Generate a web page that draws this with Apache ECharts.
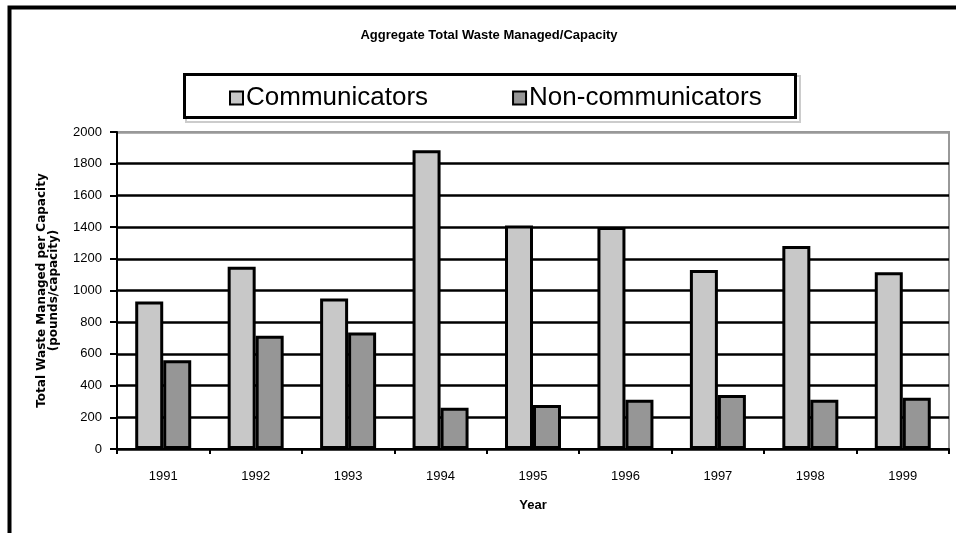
<!DOCTYPE html>
<html>
<head>
<meta charset="utf-8">
<script src="https://cdn.jsdelivr.net/npm/echarts@6/dist/echarts.min.js"></script>
<style>html,body{margin:0;padding:0;background:#fff}#c{width:956px;height:533px}</style>
</head>
<body>
<div id="c"></div>
<script>
var years = ['1991','1992','1993','1994','1995','1996','1997','1998','1999'];
var communicators = [930, 1150, 950, 1885, 1410, 1400, 1130, 1280, 1115];
var nonCommunicators = [560, 715, 735, 260, 278, 311, 341, 311, 324];
var titleText = 'Aggregate Total Waste Managed/Capacity';
var yAxisName = 'Total Waste Managed per Capacity\n(pounds/capacity)';
var xAxisName = 'Year';

var chart = echarts.init(document.getElementById('c'), null, {renderer: 'canvas'});
var splitColors = [];
for (var i = 0; i < 10; i++) splitColors.push('#000');
splitColors.push('#999');
chart.setOption({
  animation: false,
  backgroundColor: '#fff',
  title: {
    text: titleText,
    left: 484, top: 24, textAlign: 'center',
    textStyle: {fontFamily: 'Arial, Liberation Sans', fontSize: 13, fontWeight: 'bold', color: '#000'}
  },
  legend: {
    left: 224, top: 80,
    itemWidth: 13, itemHeight: 13, itemGap: 84,
    icon: 'rect',
    textStyle: {fontFamily: 'Arial, Liberation Sans', fontSize: 26, color: '#000', padding: [0,0,0,-2]},
    data: ['Communicators', 'Non-communicators']
  },
  grid: {left: 117, right: 7, top: 132, bottom: 84, show: true, borderColor: '#999', borderWidth: 2, backgroundColor: 'transparent'},
  xAxis: {
    type: 'category', data: years,
    name: xAxisName, nameLocation: 'middle', nameGap: 50,
    nameTextStyle: {fontFamily: 'Arial, Liberation Sans', fontSize: 13, fontWeight: 'bold', color: '#000'},
    axisLine: {lineStyle: {color: '#000', width: 2}},
    axisTick: {show: true, length: 5, lineStyle: {color: '#000', width: 2}},
    axisLabel: {fontFamily: 'Arial, Liberation Sans', fontSize: 13, color: '#000', margin: 21}
  },
  yAxis: {
    type: 'value', min: 0, max: 2000, interval: 200,
    name: yAxisName, nameLocation: 'middle', nameGap: 57, nameRotate: 90,
    nameTextStyle: {fontFamily: 'DejaVu Sans', fontSize: 12, fontWeight: 'bold', color: '#000', lineHeight: 12, align: 'center'},
    axisLine: {show: true, lineStyle: {color: '#000', width: 2}},
    axisTick: {show: true, length: 7, lineStyle: {color: '#000', width: 2}},
    axisLabel: {fontFamily: 'Arial, Liberation Sans', fontSize: 13, color: '#000', margin: 15,
      formatter: function (v) { return String(v); }},
    splitLine: {show: true, lineStyle: {color: splitColors, width: 2.5}}
  },
  series: [
    {name: 'Communicators', type: 'bar', data: communicators, barWidth: 28, barGap: '0%',
     itemStyle: {color: '#c8c8c8', borderColor: '#000', borderWidth: 3}},
    {name: 'Non-communicators', type: 'bar', data: nonCommunicators, barWidth: 28, barGap: '0%',
     itemStyle: {color: '#969696', borderColor: '#000', borderWidth: 3}}
  ],
  graphic: [
    {type: 'rect', shape: {x: 9.5, y: 7.5, width: 970, height: 560}, style: {fill: 'none', stroke: '#000', lineWidth: 4}, silent: true, z: 100},
    {type: 'rect', shape: {x: 186, y: 76, width: 614, height: 46}, style: {fill: 'none', stroke: '#ccc', lineWidth: 2}, silent: true, z: -1},
    {type: 'rect', shape: {x: 184.5, y: 74.5, width: 611, height: 43}, style: {fill: '#fff', stroke: '#000', lineWidth: 3}, silent: true, z: -1}
  ]
});
</script>
</body>
</html>
